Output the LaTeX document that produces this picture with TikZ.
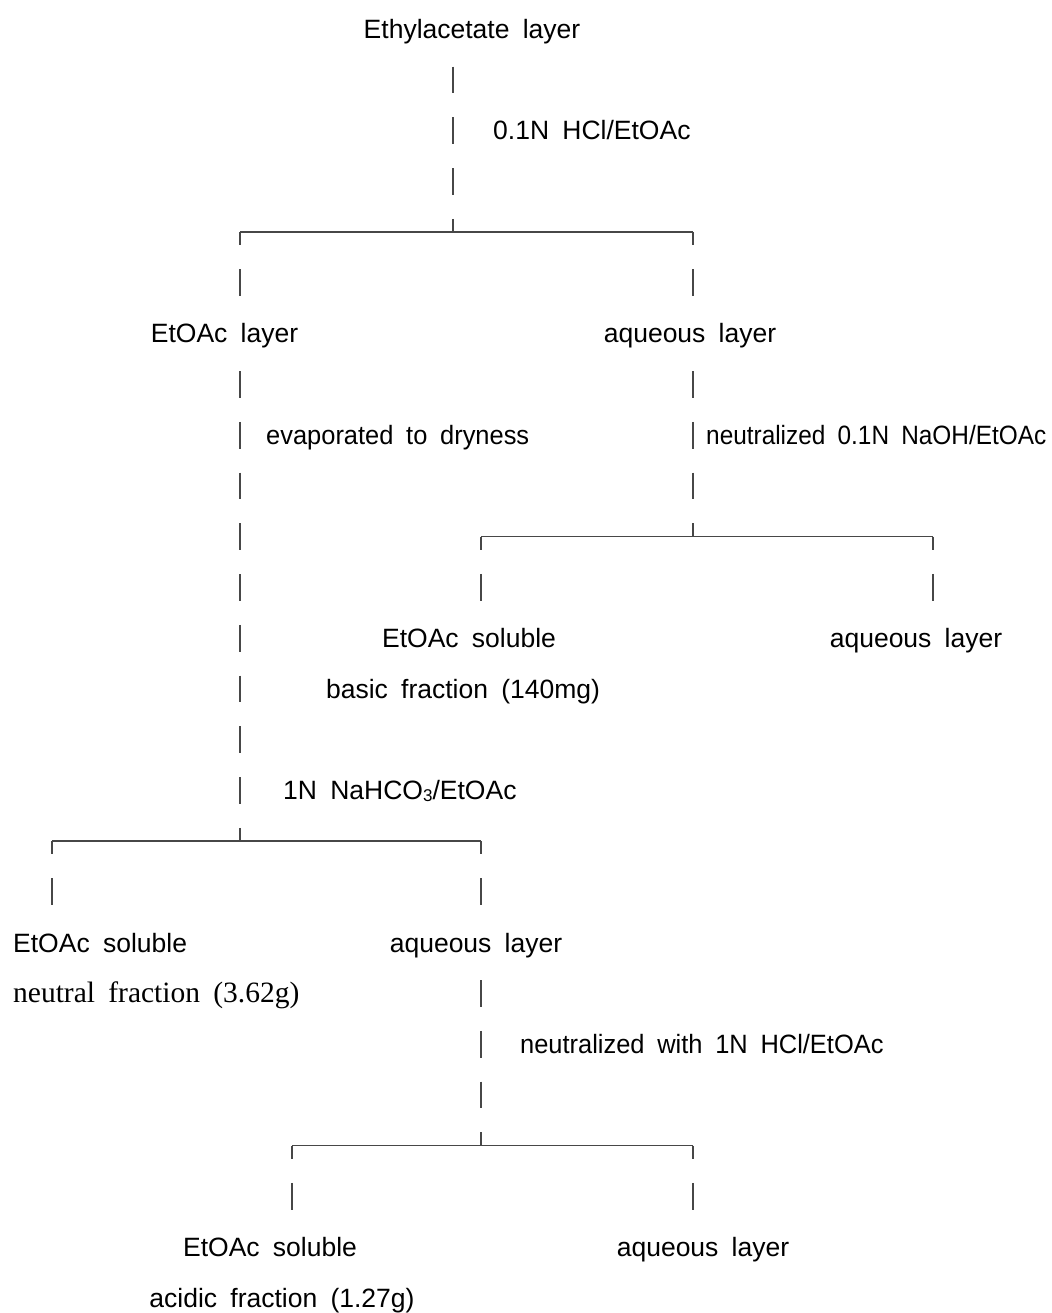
\documentclass[tikz,border=0pt]{standalone}
\usepackage{fontspec}
\setmainfont{Liberation Sans}[WordSpace=1.8]
\newfontfamily\serifface{Liberation Serif}[WordSpace=1.8]
\newcommand{\narrow}[1]{\addfontfeature{FakeStretch=#1}}

\tikzset{
  txt/.style={font=\fontsize{26.5}{32}\selectfont, inner xsep=0pt, inner ysep=0pt,
    text height=22.8pt, text depth=3.8pt},
  bar/.style={line width=1.5pt, draw=black!72, dash pattern=on 26.6pt off 24.15pt},
  fromnode/.style={bar, dash phase=26.6pt},
  fromsplit/.style={bar, dash phase=13.3pt},
  split/.style={line width=1.5pt, draw=black!72}
}

\begin{document}
\begin{tikzpicture}[x=1pt, y=-50.75pt]
\useasboundingbox (0,-0.5714) rectangle (1051,25.3005);

% Start
\node[txt] (ethyl) at (472,0) {Ethylacetate layer};
\node[txt, anchor=west] (hcl) at (493,2) {0.1N HCl/EtOAc};
\coordinate (s1) at (453,4);
\coordinate (s1l) at (240,4);
\coordinate (s1r) at (693,4);
\draw[fromnode] (ethyl.south -| s1) -- (s1);
\draw[split] (s1l) -- (s1r);

% First split
\node[txt] (etoac) at (224.5,6) {EtOAc layer};
\node[txt] (aqone) at (690,6) {aqueous layer};
\draw[fromsplit] (s1l) -- (etoac.north -| s1l);
\draw[fromsplit] (s1r) -- (aqone.north -| s1r);
\node[txt, anchor=west] (evap) at (266,8) {\narrow{0.96}evaporated to dryness};
\node[txt, anchor=west] (naoh) at (706,8) {\narrow{0.92}neutralized 0.1N NaOH/EtOAc};

% Aqueous layer split
\coordinate (s2) at (693,10);
\coordinate (s2l) at (481,10);
\coordinate (s2r) at (933,10);
\draw[fromnode] (aqone.south -| s2) -- (s2);
\draw[split] (s2l) -- (s2r);
\node[txt] (bsol) at (469,12) {EtOAc soluble};
\node[txt] (basic) at (463,13) {basic fraction (140mg)};
\node[txt] (baq) at (916,12) {aqueous layer};
\draw[fromsplit] (s2l) -- (bsol.north -| s2l);
\draw[fromsplit] (s2r) -- (baq.north -| s2r);

% EtOAc layer split
\node[txt, anchor=west] (nahco) at (283,15) {1N NaHCO\raisebox{-2pt}{\fontsize{17}{17}\selectfont 3}/EtOAc};
\coordinate (s3) at (240,16);
\coordinate (s3l) at (52,16);
\coordinate (s3r) at (481,16);
\draw[fromnode] (etoac.south -| s3) -- (s3);
\draw[split] (s3l) -- (s3r);
\node[txt, anchor=west] (nsol) at (13,18) {EtOAc soluble};
\node[txt, anchor=west, font=\serifface\fontsize{29.5}{32}\selectfont] (neutral) at (13,19) {neutral fraction (3.62g)};
\node[txt] (naq) at (476,18) {aqueous layer};
\draw[fromsplit] (s3l) -- (nsol.north -| s3l);
\draw[fromsplit] (s3r) -- (naq.north -| s3r);

% Last split
\node[txt, anchor=west] (hclb) at (520,20) {\narrow{0.96}neutralized with 1N HCl/EtOAc};
\coordinate (s4) at (481,22);
\coordinate (s4l) at (292,22);
\coordinate (s4r) at (693,22);
\draw[fromnode] (naq.south -| s4) -- (s4);
\draw[split] (s4l) -- (s4r);
\node[txt] (asol) at (270,24) {EtOAc soluble};
\node[txt] (acidic) at (282,25) {acidic fraction (1.27g)};
\node[txt] (aaq) at (703,24) {aqueous layer};
\draw[fromsplit] (s4l) -- (asol.north -| s4l);
\draw[fromsplit] (s4r) -- (aaq.north -| s4r);

\end{tikzpicture}
\end{document}
